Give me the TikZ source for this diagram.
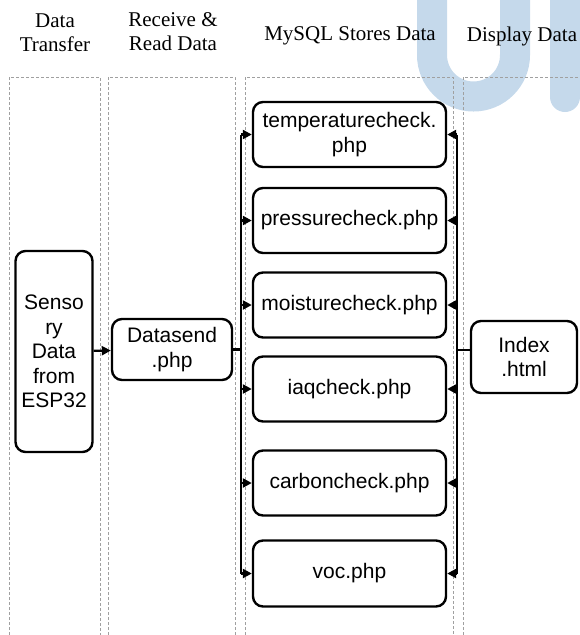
\documentclass[tikz,border=0pt]{standalone}
\usepackage{fontspec}
\setmainfont{Liberation Serif}
\newfontfamily\arialf{Liberation Sans}
\usetikzlibrary{arrows.meta}
\definecolor{wm}{HTML}{C5D9EB}
\definecolor{lanegray}{HTML}{A0A0A0}
\tikzset{
  lane/.style={draw=lanegray, line width=0.9pt, dash pattern=on 3pt off 2pt},
  hdr/.style={font=\fontsize{21}{24}\selectfont, align=center, inner sep=0pt},
  pbox/.style={draw, line width=2.4pt, rounded corners=10pt, align=center,
    font=\arialf\fontsize{21}{24.5}\selectfont, inner sep=1pt},
  ln/.style={line width=2.3pt},
  arr/.style={line width=2.3pt, -{Triangle[length=9pt,width=9pt]}},
}
\begin{document}
\begin{tikzpicture}[x=1pt,y=-1pt]
\useasboundingbox (0,0) rectangle (580,635);
% watermark
\draw[wm, line width=30pt] (432,-5) -- (432,55) arc[start angle=180, end angle=0, radius=41.5] -- (515,-5);
\draw[wm, line width=30pt, line cap=round] (565,-5) -- (565,97);
% lanes
\draw[lane] (9,645) -- (9,77) -- (100,77) -- (100,645);
\draw[lane] (108,645) -- (108,77) -- (235,77) -- (235,645);
\draw[lane] (245,645) -- (245,77) -- (453,77) -- (453,645);
\draw[lane] (463,645) -- (463,77) -- (590,77);
% headers
\node[hdr] (h1) at (55,33) {Data\\Transfer};
\node[hdr] (h2) at (173,32) {Receive \&\\Read Data};
\node[hdr] (h3) at (350,36) {MySQL Stores Data};
\node[hdr] (h4) at (522,36) {Display Data};
% boxes
\node[pbox, minimum width=77pt, minimum height=201pt] (sens) at (54,351.5) {Senso\\ry\\Data\\from\\ESP32};
\node[pbox, minimum width=120pt, minimum height=61pt] (ds) at (172,349.5) {Datasend\\.php};
\node[pbox, minimum width=193pt, minimum height=65pt] (temp) at (349.5,134.5) {temperaturecheck.\\php};
\node[pbox, minimum width=193pt, minimum height=65pt] (pres) at (349.5,220.5) {pressurecheck.php};
\node[pbox, minimum width=193pt, minimum height=65pt] (moist) at (349.5,305) {moisturecheck.php};
\node[pbox, minimum width=193pt, minimum height=65pt] (iaq) at (349.5,389) {iaqcheck.php};
\node[pbox, minimum width=193pt, minimum height=65pt] (carb) at (349.5,483) {carboncheck.php};
\node[pbox, minimum width=193pt, minimum height=66pt] (voc) at (349.5,573.5) {voc.php};
\node[pbox, minimum width=106pt, minimum height=72pt] (idx) at (524,357) {Index\\.html};
% bus coordinates
\coordinate (lbx) at (241,0);
\coordinate (rbx) at (457,0);
% connectors
\draw[arr] (sens) -- (ds);
\draw[ln] (ds.east) -- (ds.east -| lbx);
\draw[ln] (temp.west -| lbx) -- (voc.west -| lbx);
\foreach \b in {temp,pres,moist,iaq,carb,voc}{
  \draw[arr] (\b.west -| lbx) -- (\b.west);
  \draw[arr] (\b.east -| rbx) -- (\b.east);
}
\draw[ln] (temp.east -| rbx) -- (voc.east -| rbx);
\draw[ln] ([yshift=7pt]idx.west) -- ([yshift=7pt]idx.west -| rbx);
\end{tikzpicture}
\end{document}
